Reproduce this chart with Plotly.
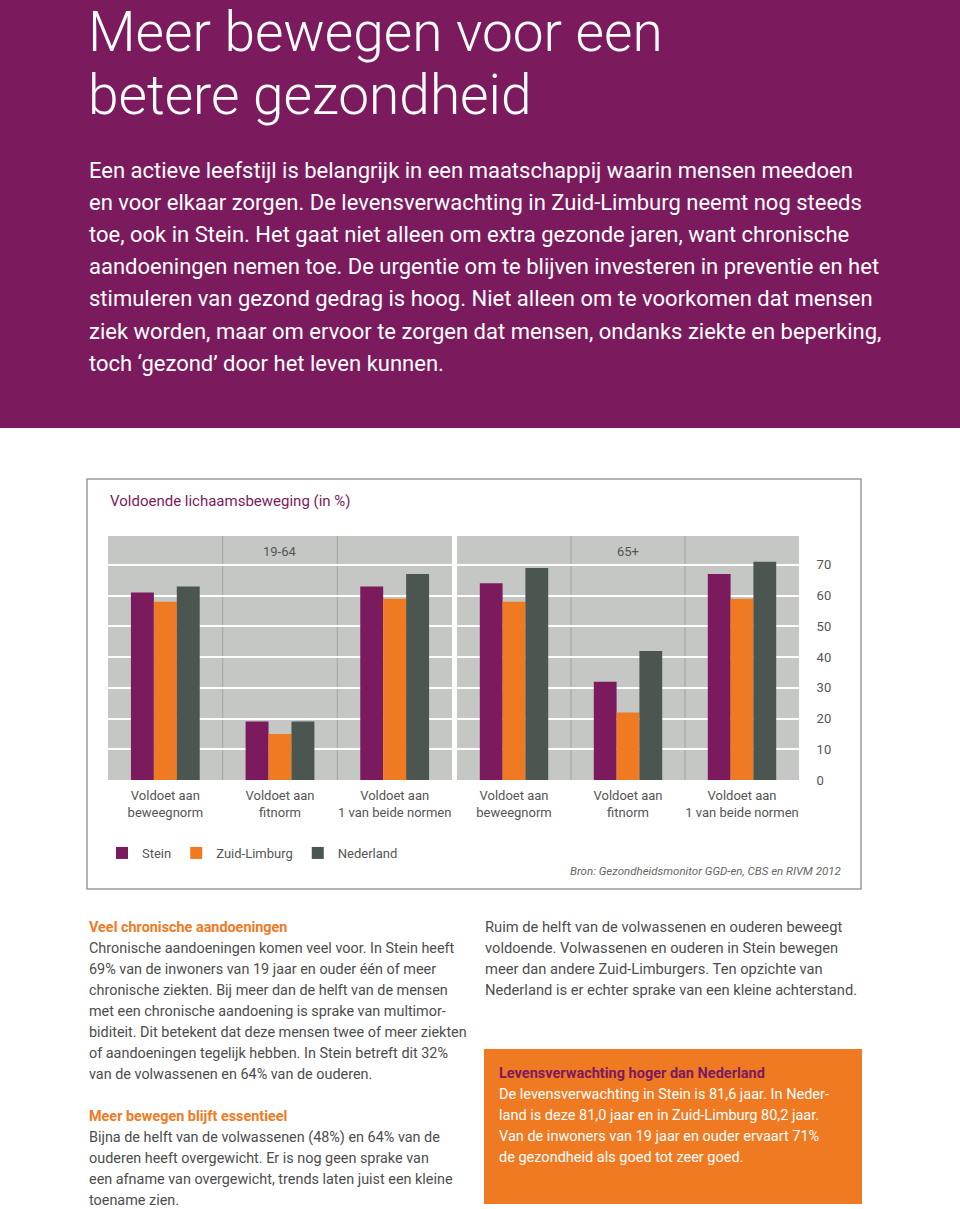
import plotly.graph_objects as go

# ---------------- data ----------------
categories = ["Voldoet aan<br>beweegnorm", "Voldoet aan<br>fitnorm", "Voldoet aan<br>1 van beide normen"]
age_groups = ["19-64", "65+"]
series_names = ["Stein", "Zuid-Limburg", "Nederland"]
stein_19_64 = [61, 19, 63]
stein_65plus = [64, 32, 67]
zuidlimburg_19_64 = [58, 15, 59]
zuidlimburg_65plus = [58, 22, 59]
nederland_19_64 = [63, 19, 67]
nederland_65plus = [69, 42, 71]
y_ticks = [0, 10, 20, 30, 40, 50, 60, 70]

# ---------------- style ----------------
W, H = 960, 1209
PURPLE = "#7c1a5e"
ORANGE = "#f07a22"
DARK = "#4c5650"
PANEL = "#c4c7c3"
TXT = "#4d4d4d"
FONT = "Roboto"

def px_x(x):
    return x / W

def px_y(y):
    return 1 - y / H

series_colors = [PURPLE, ORANGE, DARK]
series_data = [
    (stein_19_64, stein_65plus),
    (zuidlimburg_19_64, zuidlimburg_65plus),
    (nederland_19_64, nederland_65plus),
]

fig = go.Figure()
for name, color, (v1, v2) in zip(series_names, series_colors, series_data):
    fig.add_trace(go.Bar(x=categories, y=v1, name=name, marker=dict(color=color, line=dict(width=0)),
                         legendgroup=name, showlegend=True, xaxis="x", yaxis="y"))
    fig.add_trace(go.Bar(x=categories, y=v2, name=name, marker=dict(color=color, line=dict(width=0)),
                         legendgroup=name, showlegend=False, xaxis="x2", yaxis="y2"))

y_range = [0, 79.4]
common_x = dict(type="category", showgrid=False, zeroline=False, showline=False,
                ticks="outside", ticklen=3, tickcolor="rgba(0,0,0,0)",
                tickfont=dict(family=FONT, size=13, color="#555555"), fixedrange=True)
common_y = dict(range=y_range, showgrid=True, gridcolor="white", gridwidth=2, zeroline=False,
                showline=False, tickvals=y_ticks, fixedrange=True)

fig.update_layout(
    width=W, height=H,
    autosize=False,
    margin=dict(l=0, r=0, t=0, b=0, pad=0, autoexpand=False),
    paper_bgcolor="white",
    plot_bgcolor=PANEL,
    barmode="group",
    bargap=0.40,
    bargroupgap=0,
    font=dict(family=FONT, color=TXT),
    xaxis=dict(domain=[px_x(108), px_x(452)], anchor="y", **common_x),
    xaxis2=dict(domain=[px_x(457), px_x(799)], anchor="y2", **common_x),
    yaxis=dict(domain=[px_y(780), px_y(536)], anchor="x", showticklabels=False, **common_y),
    yaxis2=dict(domain=[px_y(780), px_y(536)], anchor="x2", side="right", showticklabels=True,
                ticks="outside", ticklen=14, tickcolor="rgba(0,0,0,0)",
                tickfont=dict(family=FONT, size=13, color="#555555"), **common_y),
    legend=dict(orientation="h", x=px_x(102), y=px_y(853), xanchor="left", yanchor="middle",
                font=dict(family=FONT, size=13, color="#555555"), bgcolor="rgba(0,0,0,0)",
                itemwidth=30, traceorder="normal"),
    showlegend=True,
)

shapes = []
# purple header band
shapes.append(dict(type="rect", xref="paper", yref="paper", x0=0, x1=1, y0=px_y(428), y1=1,
                   fillcolor=PURPLE, line=dict(width=0), layer="below"))
# chart frame
shapes.append(dict(type="rect", xref="paper", yref="paper", x0=px_x(87), x1=px_x(861),
                   y0=px_y(889), y1=px_y(479), fillcolor="rgba(0,0,0,0)",
                   line=dict(color="#9a9a9a", width=1.5), layer="below"))
# orange box
shapes.append(dict(type="rect", xref="paper", yref="paper", x0=px_x(484), x1=px_x(862),
                   y0=px_y(1204), y1=px_y(1049), fillcolor=ORANGE, line=dict(width=0), layer="below"))
# category dividers
for xr, yr in (("x", "y domain"), ("x2", "y2 domain")):
    for b in (0.5, 1.5):
        shapes.append(dict(type="line", xref=xr, yref=yr, x0=b, x1=b, y0=0, y1=1,
                           line=dict(color="#a2a5a1", width=1), layer="below"))
fig.update_layout(shapes=shapes)

ann = []

def line(text, x, y, size, color, bold=False, italic=False, anchor="left", weight=None):
    f = dict(family=FONT, size=size, color=color)
    if weight is not None:
        f["weight"] = weight
    elif bold:
        f["weight"] = "bold"
    if italic:
        f["style"] = "italic"
    ann.append(dict(text=text, x=px_x(x), y=px_y(y), xref="paper", yref="paper",
                    xanchor=anchor, yanchor="middle", showarrow=False, font=f))

# title
line("Meer bewegen voor een", 86, 32, 55, "white", weight=300)
line("betere gezondheid", 86, 95, 55, "white", weight=300)

intro = [
    "Een actieve leefstijl is belangrijk in een maatschappij waarin mensen meedoen",
    "en voor elkaar zorgen. De levensverwachting in Zuid-Limburg neemt nog steeds",
    "toe, ook in Stein. Het gaat niet alleen om extra gezonde jaren, want chronische",
    "aandoeningen nemen toe. De urgentie om te blijven investeren in preventie en het",
    "stimuleren van gezond gedrag is hoog. Niet alleen om te voorkomen dat mensen",
    "ziek worden, maar om ervoor te zorgen dat mensen, ondanks ziekte en beperking,",
    "toch \u2018gezond\u2019 door het leven kunnen.",
]
for i, t in enumerate(intro):
    line(t, 87, 170 + i * 32.2, 22, "white")

# chart texts
line("Voldoende lichaamsbeweging (in %)", 108, 501, 15, PURPLE)
for i, g in enumerate(age_groups):
    ann.append(dict(text=g, x=0.5, y=px_y(551), xref="x domain" if i == 0 else "x2 domain",
                    yref="paper", xanchor="center", yanchor="middle", showarrow=False,
                    font=dict(family=FONT, size=13, color="#555555")))
line("Bron: Gezondheidsmonitor GGD-en, CBS en RIVM 2012", 843, 871, 11.5, "#666666",
     italic=True, anchor="right")

# bottom texts
left_col = [
    ("Veel chronische aandoeningen", True),
    ("Chronische aandoeningen komen veel voor. In Stein heeft", False),
    ("69% van de inwoners van 19 jaar en ouder één of meer", False),
    ("chronische ziekten. Bij meer dan de helft van de mensen", False),
    ("met een chronische aandoening is sprake van multimor-", False),
    ("biditeit. Dit betekent dat deze mensen twee of meer ziekten", False),
    ("of aandoeningen tegelijk hebben. In Stein betreft dit 32%", False),
    ("van de volwassenen en 64% van de ouderen.", False),
]
for i, (t, b) in enumerate(left_col):
    line(t, 87, 927 + i * 21, 14.4, ORANGE if b else TXT, bold=b)
left_col2 = [
    ("Meer bewegen blijft essentieel", True),
    ("Bijna de helft van de volwassenen (48%) en 64% van de", False),
    ("ouderen heeft overgewicht. Er is nog geen sprake van", False),
    ("een afname van overgewicht, trends laten juist een kleine", False),
    ("toename zien.", False),
]
for i, (t, b) in enumerate(left_col2):
    line(t, 87, 1116 + i * 21, 14.4, ORANGE if b else TXT, bold=b)

right_col = [
    "Ruim de helft van de volwassenen en ouderen beweegt",
    "voldoende. Volwassenen en ouderen in Stein bewegen",
    "meer dan andere Zuid-Limburgers. Ten opzichte van",
    "Nederland is er echter sprake van een kleine achterstand.",
]
for i, t in enumerate(right_col):
    line(t, 483, 927 + i * 21, 14.7, TXT)

box = [
    ("Levensverwachting hoger dan Nederland", True),
    ("De levensverwachting in Stein is 81,6 jaar. In Neder-", False),
    ("land is deze 81,0 jaar en in Zuid-Limburg 80,2 jaar.", False),
    ("Van de inwoners van 19 jaar en ouder ervaart 71%", False),
    ("de gezondheid als goed tot zeer goed.", False),
]
for i, (t, b) in enumerate(box):
    line(t, 497, 1073 + i * 21.2, 14.5, PURPLE if b else "white", bold=b)

fig.update_layout(annotations=ann)
post = (
    "var s=document.createElement('style');"
    "s.textContent='html,body{margin:0;padding:0;overflow:hidden;width:960px;height:1209px;line-height:0;font-size:0;}';"
    "document.head.appendChild(s);"
)
fig.write_html("out.html", config={"displayModeBar": False, "responsive": False}, post_script=post)
